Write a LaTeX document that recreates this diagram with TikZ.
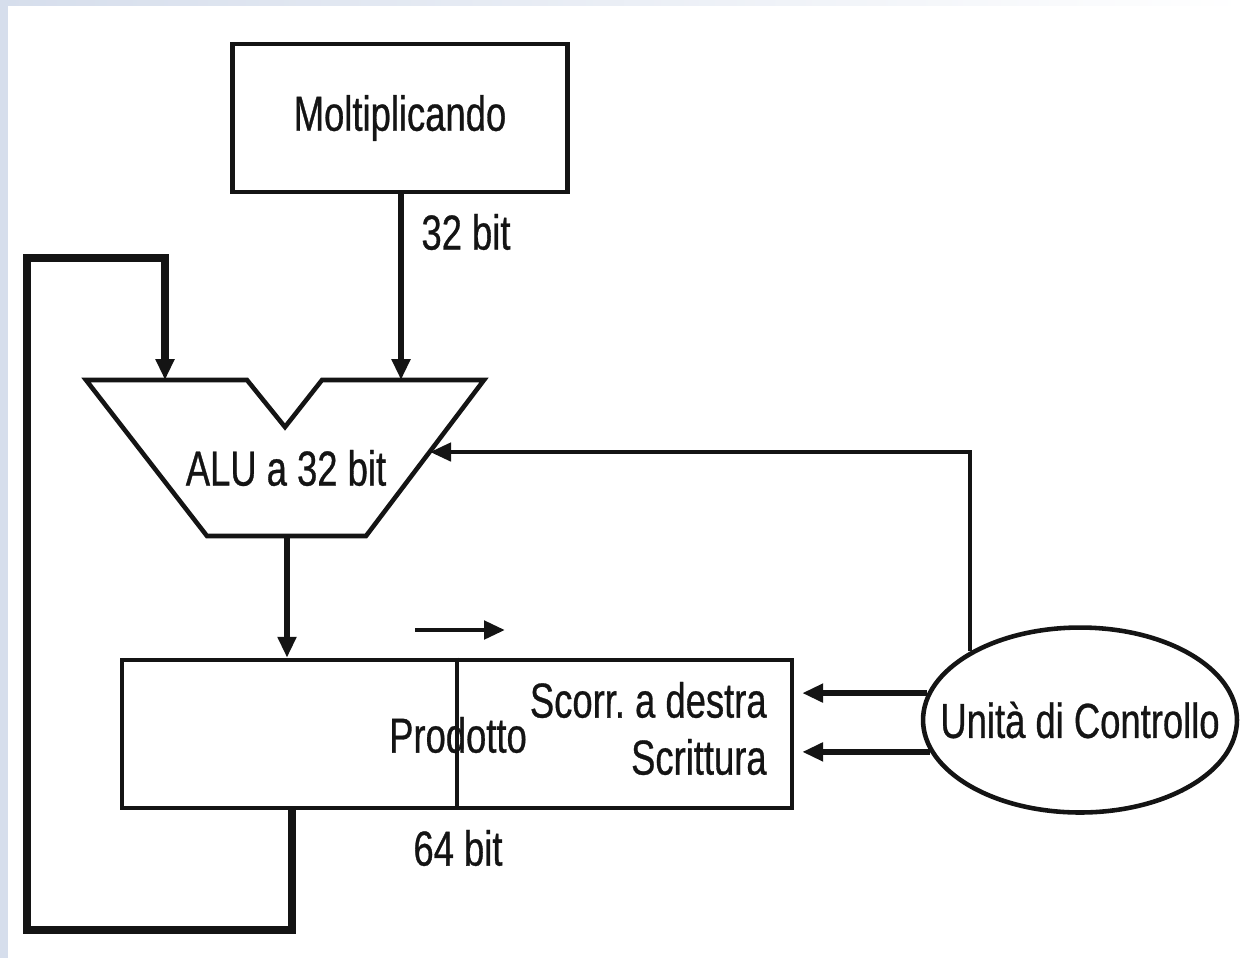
\documentclass[tikz,border=0pt]{standalone}
\usepackage{fontspec}
\setmainfont{Liberation Sans}[FakeStretch=0.74, FakeBold=0.6]
\usetikzlibrary{arrows.meta, positioning, shapes.geometric, calc}
\definecolor{scanblue}{HTML}{D6DEEC}
\definecolor{ink}{HTML}{141414}

\begin{document}
\begin{tikzpicture}[x=0.02cm, y=-0.02cm,
    txt/.style={font=\fontsize{28}{32}\selectfont, text=ink, inner sep=0pt},
    wire/.style={draw=ink, line width=3.2pt},
    arr/.style={wire, -{Triangle[length=0.42cm, width=0.36cm]}},
    unit/.style={draw=ink, line width=2.6pt, fill=white}]
    \useasboundingbox (0,0) rectangle (1246,958);
    % scan edge
    \fill[scanblue] (0,0) rectangle (8,958);
    \shade[left color=scanblue, right color=white] (0,0) rectangle (1246,5);

    % Blocks
    \node[unit, txt, minimum width=6.7cm, minimum height=2.96cm] (molt) at (400,118) {Moltiplicando};

    \coordinate (alu-in1) at (165,380);
    \coordinate (alu-in2) at (401,380);
    \coordinate (alu-out) at (287,536);
    \coordinate (alu-ctl) at (430,452);
    \draw[unit, line join=miter] (86,380) -- (247,380) -- (285,427) -- (322,380) -- (484,380) -- (366,536) -- (207,536) -- cycle;
    \node[txt] (alu) at (286,468) {ALU a 32 bit};

    \node[unit, minimum width=13.4cm, minimum height=2.96cm] (prod) at (457,734) {};
    \node[txt] (prodlbl) at (458,735) {Prodotto};
    \draw[wire, line width=2.6pt] (prod.north) -- (prod.south);
    \node[txt, anchor=east] (shr) at (767,700) {Scorr.\ a destra};
    \node[txt, anchor=east] (wr) at (767,757) {Scrittura};
    \node[txt] (w64) at (458,848) {64 bit};

    \node[unit, ellipse, inner sep=0pt, minimum width=6.28cm, minimum height=3.7cm] (ctrl) at (1080,720) {};
    \node[txt] (ctrllbl) at (ctrl) {Unità di Controllo};

    % Data paths
    \draw[arr] (molt.south -| alu-in2) -- (alu-in2);
    \node[txt] (w32) at (466,232) {32 bit};
    \draw[arr] (alu-out) -- (alu-out |- prod.north);

    \coordinate (fb-out) at (292,808);
    \draw[arr, line width=4.2pt] (fb-out) -- ++(0,122) -| (27,258) -| (alu-in1);

    % shift direction
    \coordinate (shift-a) at (415,630);
    \coordinate (shift-b) at (505,630);
    \draw[arr, line width=2.8pt] (shift-a) -- (shift-b);

    % Control signals
    \draw[arr, line width=2.6pt] (ctrl.148) |- (alu-ctl);
    \draw[arr, shorten >=0.16cm] (ctrl.170) -- (ctrl.170 -| prod.east);
    \draw[arr, shorten >=0.16cm] (ctrl.192) -- (ctrl.192 -| prod.east);
\end{tikzpicture}
\end{document}
